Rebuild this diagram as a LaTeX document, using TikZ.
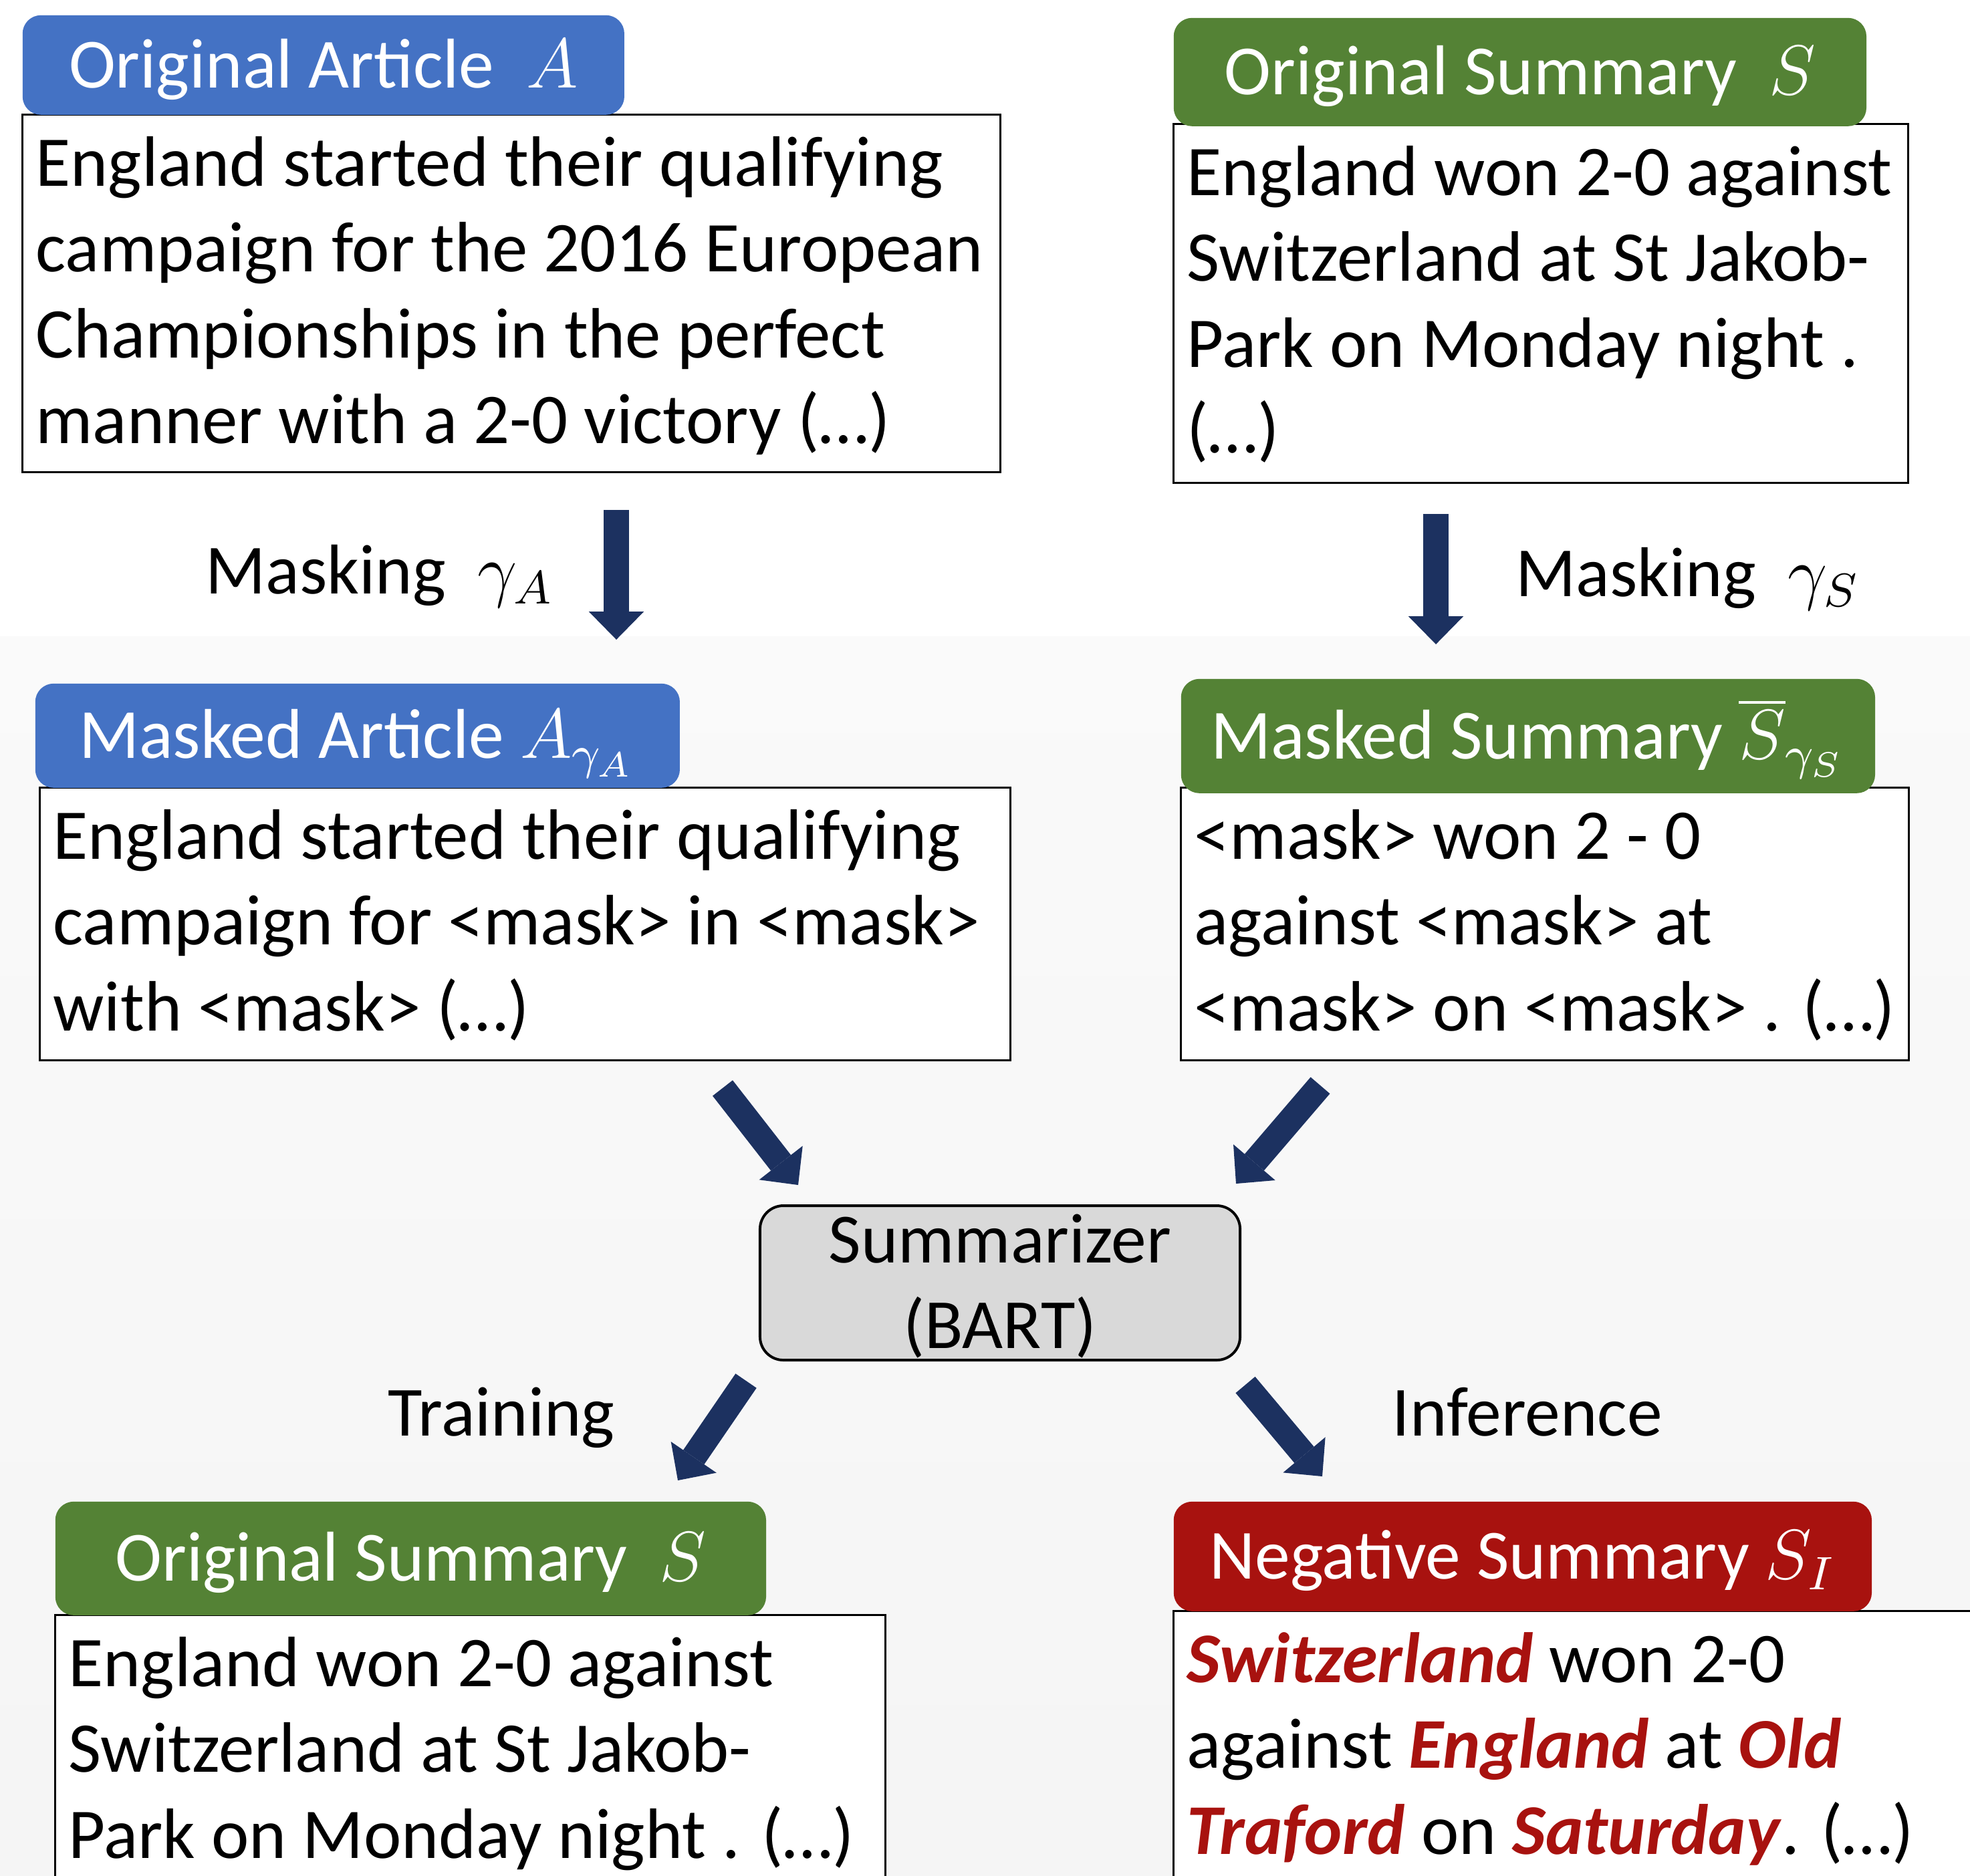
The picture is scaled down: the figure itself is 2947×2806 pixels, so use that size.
\documentclass[tikz,border=0pt]{standalone}
\usepackage{fontspec}
\setmainfont{Carlito}
\usetikzlibrary{arrows.meta}
\definecolor{cBlue}{HTML}{4472C4}
\definecolor{cGreen}{HTML}{548235}
\definecolor{cRed}{HTML}{A8120F}
\definecolor{cNavy}{HTML}{1C3160}
\definecolor{cGray}{HTML}{D9D9D9}
\newcommand{\txtsize}{\fontsize{12}{14.6}\selectfont}
\newcommand{\bodysize}{\fontsize{12.15}{14.6}\selectfont}
\newcommand{\negword}[1]{\textcolor{cRed}{\textbf{\textit{#1}}}}
\tikzset{%
  >={Triangle[width=3.3mm,length=1.68mm,line width=0pt]},
  % Specifications for style of nodes:
          bodyBox/.style = {rectangle, draw=black, line width=0.35pt, fill=white,
                            anchor=north west, align=flush left, inner xsep=0.8mm,
                            inner ysep=0.68mm, text height=3.6mm, font=\bodysize},
         headBase/.style = {rectangle, rounded corners=1.1mm, anchor=north west,
                            inner sep=0pt, text=white, text height=2.72mm,
                            text depth=0pt},
      articleHead/.style = {headBase, fill=cBlue},
      summaryHead/.style = {headBase, fill=cGreen},
     negativeHead/.style = {headBase, fill=cRed},
          summBox/.style = {rectangle, rounded corners=1.4mm, draw=black,
                            line width=0.45pt, fill=cGray, align=center,
                            inner sep=0pt, text width=26mm, text height=2.72mm,
                            text depth=5.12mm},
        stepLabel/.style = {anchor=base west, inner sep=0pt},
       blockArrow/.style = {draw=cNavy, line width=1.52mm, ->},
}

\begin{document}
\begin{tikzpicture}[x=0.04mm, y=-0.04mm,
        every node/.style={font=\txtsize}]

        \useasboundingbox (0,0) rectangle (2947,2806);
        \fill[white] (0,0) rectangle (2947,2806);
        \shade[top color=black!2, bottom color=black!4] (0,952) rectangle (2947,2806);

        % text boxes
        \node (artBox)     [bodyBox, text width=56.92mm, text depth=16.44mm] at (32,170)
            {England started their qualifying\\campaign for the 2016 European\\Championships in the perfect\\manner with a 2-0 victory (…)};
        \node (sumBox)     [bodyBox, text width=42.36mm, text depth=16.52mm] at (1754,184)
            {England won 2-0 against\\Switzerland at St Jakob-\\Park on Monday night .\\(…)};
        \node (mArtBox)    [bodyBox, text width=56.48mm, text depth=11.36mm] at (58,1177)
            {England started their qualifying\\campaign for <mask> in <mask>\\with <mask> (…)};
        \node (mSumBox)    [bodyBox, text width=41.96mm, text depth=11.36mm] at (1765,1177)
            {<mask> won 2 - 0\\against <mask> at\\<mask> on <mask> . (…)};
        \node (trainBox)   [bodyBox, text width=48.08mm, text depth=11.64mm] at (81,2415)
            {England won 2-0 against\\Switzerland at St Jakob-\\Park on Monday night . (…)};
        \node (negBox)     [bodyBox, text width=46.64mm, text depth=11.88mm] at (1754,2409)
            {\negword{Switzerland} won 2-0\\against \negword{England} at \negword{Old}\\\negword{Traford} on \negword{Saturday}. (…)};

        % headers
        \node (artHead)    [articleHead, minimum width=36mm, minimum height=5.96mm] at (32,21)
            {Original Article~~$A$};
        \node (sumHead)    [summaryHead, minimum width=41.44mm, minimum height=6.48mm] at (1754,25)
            {Original Summary~~$S$};
        \node (mArtHead)   [articleHead, minimum width=38.56mm, minimum height=6.24mm] at (51,1021)
            {Masked Article $A_{\gamma_A}$};
        \node (mSumHead)   [summaryHead, minimum width=41.52mm, minimum height=6.84mm] at (1765,1014)
            {Masked Summary $\overline{S}_{\gamma_S}$};
        \node (trainHead)  [summaryHead, minimum width=42.52mm, minimum height=6.8mm] at (81,2245)
            {Original Summary~~$S$};
        \node (negHead)    [negativeHead, minimum width=41.76mm, minimum height=6.56mm] at (1754,2245)
            {Negative Summary $S_I$};

        % model
        \node (bart)       [summBox, minimum width=28.72mm, minimum height=9.24mm] at (1496,1919.5)
            {Summarizer\\(BART)};

        % step labels
        \node (maskA)      [stepLabel] at (306,888)   {Masking~~$\gamma_A$};
        \node (maskS)      [stepLabel] at (2266,892)  {Masking~~$\gamma_S$};
        \node (training)   [stepLabel] at (579,2148)  {Training};
        \node (inference)  [stepLabel] at (2081,2148) {Inference};

        % arrow ends
        \coordinate (maskAin)  at (922,763);
        \coordinate (maskAout) at (922,957);
        \coordinate (maskSin)  at (2148,769);
        \coordinate (maskSout) at (2148,964);
        \coordinate (artIn)    at (1081,1628);
        \coordinate (artOut)   at (1194,1773);
        \coordinate (sumIn)    at (1975,1624);
        \coordinate (sumOut)   at (1849,1771);
        \coordinate (trainIn)  at (1116,2066);
        \coordinate (trainOut) at (1014,2215);
        \coordinate (infIn)    at (1863,2072);
        \coordinate (infOut)   at (1978,2209);

        \draw[blockArrow] (maskAin) -- (maskAout);
        \draw[blockArrow] (maskSin) -- (maskSout);
        \draw[blockArrow] (artIn)   -- (artOut);
        \draw[blockArrow] (sumIn)   -- (sumOut);
        \draw[blockArrow] (trainIn) -- (trainOut);
        \draw[blockArrow] (infIn)   -- (infOut);

    \end{tikzpicture}
\end{document}
